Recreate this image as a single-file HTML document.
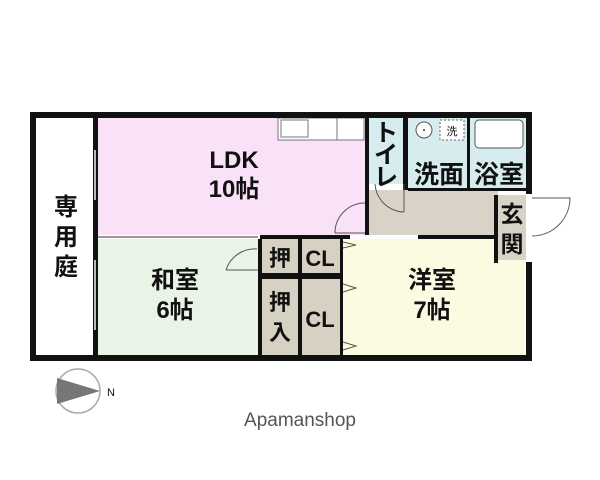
<!DOCTYPE html>
<html><head><meta charset="utf-8"><style>
html,body{margin:0;padding:0;background:#fff;width:600px;height:480px;overflow:hidden}
text{font-family:"Liberation Sans","Noto Sans CJK JP",sans-serif;fill:#111}
.b text{font-weight:bold}
</style></head><body>
<svg width="600" height="480" viewBox="0 0 600 480" xmlns="http://www.w3.org/2000/svg">
<rect x="35" y="118" width="60" height="237" fill="#fff"/>
<rect x="98" y="118" width="267" height="117" fill="#f9e2f8"/>
<rect x="98" y="239" width="160" height="116" fill="#e9f4e7"/>
<rect x="262" y="239" width="36" height="34" fill="#d7d1c4"/>
<rect x="302" y="239" width="38" height="34" fill="#d7d1c4"/>
<rect x="262" y="279" width="36" height="76" fill="#d7d1c4"/>
<rect x="302" y="279" width="38" height="76" fill="#d7d1c4"/>
<rect x="343" y="239" width="182" height="116" fill="#fcfbe1"/>
<rect x="368" y="118" width="35" height="66" fill="#d6ecee"/>
<rect x="408" y="118" width="118" height="72" fill="#d6ecee"/>
<rect x="368" y="190" width="130" height="45" fill="#d8d3c6"/>
<rect x="498" y="195" width="28" height="65" fill="#d8d3c6"/>
<rect x="278" y="118" width="86" height="22" fill="#fff" stroke="#777" stroke-width="1"/>
<rect x="281" y="120" width="27" height="17" fill="none" stroke="#777"/>
<line x1="337" y1="118" x2="337" y2="140" stroke="#777"/>
<rect x="475" y="120" width="48" height="28" rx="4" fill="#fff" stroke="#555"/>
<circle cx="424" cy="130" r="8" fill="#fff" stroke="#555"/>
<circle cx="424" cy="130" r="1" fill="#333"/>
<rect x="440" y="120" width="24" height="20" fill="#fff" stroke="#666" stroke-dasharray="2,2"/>
<text x="452" y="135" font-size="11" text-anchor="middle">洗</text>
<g fill="#111">
<rect x="30" y="112" width="502" height="6"/>
<rect x="30" y="355" width="502" height="6"/>
<rect x="30" y="112" width="6" height="249"/>
<rect x="93" y="112" width="5" height="249"/>
<rect x="526" y="112" width="6" height="82"/>
<rect x="526" y="262" width="6" height="99"/>
<rect x="365" y="112" width="4" height="123"/>
<rect x="403" y="112" width="5" height="78"/>
<rect x="467" y="118" width="3" height="72"/>
<rect x="260" y="235" width="90" height="4"/>
<rect x="418" y="235" width="80" height="4"/>
<rect x="494" y="195" width="4" height="68"/>
<rect x="340" y="239" width="3" height="116"/>
<rect x="258" y="239" width="4" height="116"/>
<rect x="298" y="239" width="4" height="116"/>
<rect x="258" y="273" width="84" height="6"/>
<rect x="408" y="188" width="124" height="3"/>
</g>
<line x1="98" y1="237" x2="258" y2="237" stroke="#999" stroke-width="2"/>
<line x1="95" y1="150" x2="95" y2="200" stroke="#bbb" stroke-width="2"/>
<line x1="95" y1="260" x2="95" y2="330" stroke="#bbb" stroke-width="2"/>
<g fill="none" stroke="#555" stroke-width="1">
<path d="M365 203 A30 30 0 0 0 335 233"/>
<line x1="335" y1="233" x2="365" y2="233"/>
<path d="M257 249 A30 30 0 0 0 226 270"/>
<line x1="226" y1="270" x2="258" y2="270"/>
<path d="M375 184 A30 30 0 0 0 404 212"/>
<line x1="404" y1="184" x2="404" y2="212"/>
<path d="M532 198 L570 198 A38 38 0 0 1 532 236"/>
<path d="M343 242 L356 245 L343 248"/>
<path d="M343 284 L356 288 L343 292"/>
<path d="M343 342 L356 346 L343 350"/>
</g>
<circle cx="78" cy="391" r="22" fill="#fff" stroke="#aaa" stroke-width="1.5"/>
<path d="M57 378 L100 391 L57 404 Z" fill="#777"/>
<text x="107" y="396" font-size="11" fill="#666">N</text>
<g font-size="24" class="b">
<text x="234" y="168" text-anchor="middle">LDK</text>
<text x="234" y="197" text-anchor="middle">10帖</text>
<text x="66" y="215" text-anchor="middle">専</text>
<text x="66" y="245" text-anchor="middle">用</text>
<text x="66" y="275" text-anchor="middle">庭</text>
<text x="175" y="288" text-anchor="middle">和室</text>
<text x="175" y="318" text-anchor="middle">6帖</text>
<text x="432" y="288" text-anchor="middle">洋室</text>
<text x="432" y="318" text-anchor="middle">7帖</text>
<text x="280" y="266" text-anchor="middle" font-size="22">押</text>
<text x="320" y="266" text-anchor="middle" font-size="22">CL</text>
<text x="280" y="310" text-anchor="middle" font-size="22">押</text>
<text x="280" y="340" text-anchor="middle" font-size="22">入</text>
<text x="320" y="327" text-anchor="middle" font-size="22">CL</text>
<text x="439" y="183" text-anchor="middle" font-size="25">洗面</text>
<text x="499" y="183" text-anchor="middle" font-size="25">浴室</text>
<text x="386" y="141" text-anchor="middle">ト</text>
<text x="386" y="163" text-anchor="middle">イ</text>
<text x="386" y="185" text-anchor="middle">レ</text>
<text x="512" y="222" text-anchor="middle" font-size="23">玄</text>
<text x="512" y="252" text-anchor="middle" font-size="23">関</text>
</g>
<text x="300" y="426" font-size="19" text-anchor="middle" style="fill:#555">Apamanshop</text>
</svg>
</body></html>
